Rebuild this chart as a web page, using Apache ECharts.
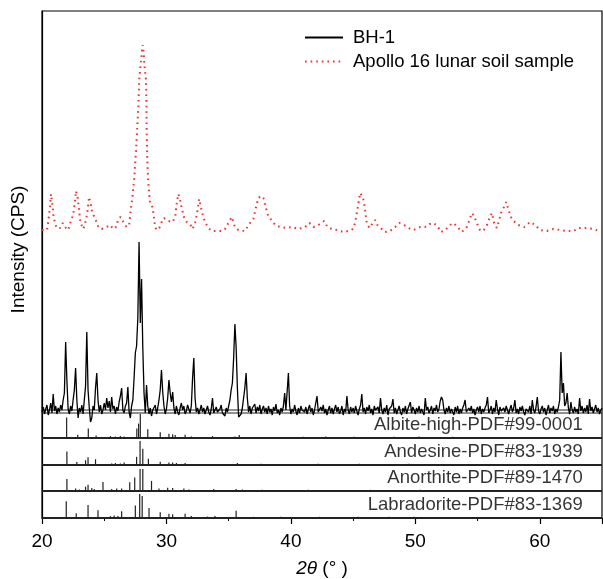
<!DOCTYPE html>
<html>
<head>
<meta charset="utf-8">
<script src="https://cdn.jsdelivr.net/npm/echarts@6/dist/echarts.min.js"></script>
<style>html,body{margin:0;padding:0;background:#fff;}#c{width:603px;height:579px;}</style>
</head>
<body>
<div id="c"></div>
<script>
// ---------- DATA ----------
const xTicks = [20, 30, 40, 50, 60];
const seriesNames = ['BH-1', 'Apollo 16 lunar soil sample'];
const patternNames = ['Albite-high-PDF#99-0001', 'Andesine-PDF#83-1939', 'Anorthite-PDF#89-1470', 'Labradorite-PDF#83-1369'];

// BH-1 measured pattern: 2θ from 20.0 to 65.0, step 0.1 (offset intensity units)
const bh1Start = 20.0;
const bh1Step = 0.1;
const bh1Intensity = [
  106,111,104,109,113,103,108,115,105,124,
  107,112,104,110,106,113,108,118,125,176,
  138,109,104,112,107,118,128,150,118,100,
  110,106,113,104,118,132,186,128,110,96,
  100,112,108,130,145,118,106,113,104,108,
  115,108,120,110,117,106,121,109,112,104,
  111,107,116,122,130,108,105,112,115,131,
  106,100,112,118,140,165,172,200,276,195,
  239,170,125,105,133,112,104,110,102,108,
  106,113,104,110,118,128,148,126,112,104,
  109,120,138,125,116,126,110,104,112,106,
  103,110,115,108,112,104,107,113,109,105,
  112,140,160,120,106,110,104,108,113,106,
  110,104,108,112,106,103,109,120,105,108,
  111,106,104,109,113,105,107,102,110,106,
  112,118,128,135,160,194,171,130,101,102,
  104,110,120,130,145,120,106,112,104,110,
  108,114,105,111,107,113,104,109,112,106,
  110,104,112,106,109,103,111,107,114,105,
  108,103,110,106,112,125,108,110,145,112,
  104,109,106,113,107,103,110,105,112,108,
  110,106,111,104,109,113,106,110,103,108,
  110,122,106,104,111,107,113,105,109,103,
  108,112,105,110,104,109,113,106,111,104,
  107,112,103,109,106,122,108,104,111,106,
  110,105,112,107,103,109,113,124,106,110,
  104,111,107,113,105,109,103,112,108,106,
  111,105,120,108,104,110,106,113,103,109,
  107,112,119,105,110,104,108,112,106,103,
  110,106,112,104,109,107,116,105,111,108,
  104,110,106,112,105,109,107,103,120,108,
  111,105,108,112,104,110,107,113,106,109,
  117,121,118,108,104,110,106,112,105,109,
  107,103,111,106,112,104,109,105,110,113,
  118,106,104,110,107,112,105,109,103,108,
  111,106,112,104,109,106,110,113,121,105,
  108,112,104,110,106,118,109,103,111,107,
  105,110,106,112,108,104,109,113,106,110,
  118,105,109,104,111,107,112,106,103,109,
  110,106,112,104,118,108,105,111,121,107,
  104,109,112,106,110,103,108,113,105,110,
  107,112,104,109,106,111,118,166,125,135,
  112,115,125,110,104,116,108,105,111,106,
  109,104,120,107,112,105,110,106,113,104,
  119,107,111,105,109,113,106,110,104,108,
  110
];

// Apollo 16 lunar soil sample (offset intensity units)
const apolloTheta = [20.0,20.4,20.5,20.64,20.72,20.86,20.93,21.05,21.18,21.45,21.66,21.85,22.1,22.3,22.5,22.65,22.73,22.87,23.0,23.1,23.32,23.54,23.67,23.78,23.9,24.04,24.26,24.53,24.8,25.2,25.47,25.73,25.95,26.13,26.32,26.54,26.8,27.0,27.13,27.29,27.42,27.56,27.66,27.74,27.82,27.96,28.09,28.17,28.25,28.36,28.39,28.41,28.46,28.54,28.68,28.87,29.0,29.08,29.22,29.43,29.62,29.8,30.15,30.5,30.7,30.83,30.96,31.1,31.23,31.41,31.63,31.9,32.1,32.3,32.43,32.54,32.62,32.76,32.92,33.1,33.37,33.64,34.04,34.44,34.71,34.98,35.25,35.5,35.78,36.3,36.72,36.98,37.2,37.39,37.58,37.79,38.0,38.2,38.46,38.73,39.13,39.67,40.07,40.6,41.14,41.49,41.81,42.21,42.67,42.94,43.29,43.69,44.22,44.62,44.97,45.16,45.3,45.43,45.56,45.66,45.78,45.88,45.99,46.1,46.31,46.58,46.77,46.95,47.3,47.57,47.97,48.38,48.72,49.1,49.45,49.85,50.39,50.79,51.14,51.46,51.78,52.05,52.4,52.8,53.07,53.39,53.74,54.14,54.35,54.54,54.73,54.94,55.2,55.47,55.75,56.0,56.15,56.33,56.55,56.76,56.95,57.14,57.3,57.49,57.68,57.89,58.29,58.75,59.23,59.63,60.03,60.57,61.1,61.64,62.18,62.71,63.11,63.78,64.32,64.72,65.0];
const apolloIntensity = [288,288,296,311,324,311,301,295,290,290,295,291,288,296,303,316,327,320,305,295,289,298,308,321,315,305,300,291,289,291,293,289,291,299,301,296,291,293,308,323,341,368,391,411,440,458,473,465,450,438,415,388,358,335,315,311,301,291,288,290,296,300,297,296,301,315,324,318,310,301,296,294,289,295,303,311,319,311,303,296,290,287,287,287,289,295,301,291,288,287,295,299,311,320,322,320,310,301,298,293,291,290,291,289,291,295,291,293,297,291,289,288,286,287,289,295,305,315,325,327,321,315,305,295,290,295,298,293,289,286,287,291,295,293,290,288,291,291,294,295,292,286,288,293,295,291,286,291,298,305,302,295,288,287,293,301,305,295,290,299,308,311,316,308,301,297,293,291,296,293,288,287,289,288,287,287,290,290,289,287,287];

// Reference stick patterns: [2θ, relative intensity]
const albiteSticks = [[21.98,85],[22.87,14],[23.72,40],[24.35,10],[25.5,8],[25.9,6],[26.3,8],[26.6,6],[27.62,40],[27.76,60],[27.9,100],[28.5,36],[29.5,24],[30.2,18],[30.5,16],[30.7,12],[31.5,14],[32.0,6],[33.7,8],[35.5,6],[35.85,12],[36.3,4],[36.8,4],[37.3,3],[37.8,4],[38.2,3],[38.7,4],[39.3,3],[39.8,4],[40.5,3],[41.0,5],[41.6,3],[42.1,4],[42.8,6],[43.4,3],[44.0,4],[44.6,3],[45.1,5],[45.7,4],[46.3,3],[46.9,4],[47.6,3],[48.3,5],[49.0,3],[49.6,4],[50.3,6],[51.0,3],[51.7,4],[52.3,3],[53.0,5],[53.6,3],[54.3,4],[55.0,3],[55.8,4],[56.5,3],[57.2,4],[58.0,3],[58.8,4],[59.6,3],[60.4,4],[61.2,3],[62.0,4],[62.8,3],[63.6,4],[64.4,3]];
const andesineSticks = [[22.0,56],[22.8,12],[23.5,20],[23.7,32],[24.3,24],[25.6,6],[25.9,8],[26.3,6],[26.6,10],[27.6,34],[27.88,100],[28.1,68],[28.55,26],[29.5,14],[30.2,10],[30.5,10],[30.8,8],[31.5,8],[33.7,4],[35.7,8],[36.5,4],[37.1,3],[37.6,5],[38.3,3],[38.9,4],[39.5,3],[40.2,4],[40.9,3],[41.5,4],[42.2,5],[42.9,3],[43.5,4],[44.2,3],[44.9,4],[45.5,5],[46.2,3],[46.8,4],[47.5,3],[48.1,4],[48.8,3],[49.5,5],[50.2,3],[50.8,4],[51.5,3],[52.2,4],[52.9,3],[53.5,4],[54.2,3],[54.9,4],[55.6,3],[56.3,4],[57.0,3],[57.7,4],[58.4,3],[59.1,4],[59.8,3],[60.6,4],[61.4,3],[62.2,4],[63.0,3],[63.8,4],[64.6,3]];
const anorthiteSticks = [[22.0,50],[22.7,10],[23.0,6],[23.5,18],[23.7,26],[24.0,12],[24.2,8],[24.9,38],[25.6,8],[26.0,10],[26.4,10],[27.05,36],[27.45,56],[27.88,92],[28.1,92],[28.8,42],[29.4,10],[30.1,14],[30.5,12],[31.4,10],[31.8,6],[33.8,8],[35.6,8],[36.1,6],[36.7,4],[37.2,3],[37.7,5],[38.4,3],[39.0,4],[39.6,3],[40.3,4],[40.8,3],[41.4,5],[42.0,3],[42.6,4],[43.3,3],[43.9,4],[44.5,3],[45.2,4],[45.8,3],[46.4,5],[47.1,3],[47.8,4],[48.4,3],[49.1,4],[49.8,3],[50.4,5],[51.1,3],[51.8,4],[52.4,3],[53.1,4],[53.8,3]];
const labradoriteSticks = [[21.95,70],[22.75,20],[23.7,54],[24.5,32],[25.5,8],[25.8,10],[26.1,8],[26.4,28],[27.5,52],[27.85,100],[28.05,92],[28.6,42],[29.5,24],[30.2,18],[30.5,16],[31.5,18],[32.0,8],[33.3,6],[33.9,8],[35.6,30],[36.4,4],[37.0,5],[37.5,3],[38.1,4],[38.7,3],[39.2,5],[39.9,3],[40.5,4],[41.1,3],[41.7,4],[42.3,5],[43.0,3],[43.6,4],[44.3,3],[44.8,4],[45.4,5],[46.0,3],[46.6,4],[47.3,3],[47.9,5],[48.6,3],[49.2,4],[49.9,5],[50.5,3],[51.2,4],[51.9,3],[52.5,4],[53.2,3],[53.9,4],[54.6,3],[55.2,4],[55.9,3],[56.6,4],[57.3,3],[58.1,4],[58.8,3],[59.5,4],[60.2,3],[61.0,4],[61.7,3],[62.5,4],[63.3,3],[64.1,4],[64.8,3]];

// ---------- LAYOUT / STYLE ----------
const patterns = [
  {name: patternNames[0], sticks: albiteSticks, base: 80},
  {name: patternNames[1], sticks: andesineSticks, base: 53},
  {name: patternNames[2], sticks: anorthiteSticks, base: 27},
  {name: patternNames[3], sticks: labradoriteSticks, base: 0}
];
const stickScale = 0.24;
const labelX = 63.45;
const labelLift = 13;
const FONT = '"Liberation Sans", Arial, sans-serif';

const bh1Data = bh1Intensity.map((v, i) => [+(bh1Start + i * bh1Step).toFixed(2), v]);
const apolloData = apolloTheta.map((t, i) => [t, apolloIntensity[i]]);

const series = [];
[108, 105].forEach(b => {
  series.push({type: 'line', silent: true, symbol: 'none', data: [[20, b], [65, b]],
    lineStyle: {color: '#222', width: 1}, z: 1});
});
patterns.forEach(p => {
  series.push({type: 'line', silent: true, symbol: 'none', data: [[20, p.base], [65, p.base]],
    lineStyle: {color: '#222', width: 2.2}, z: 1});
  series.push({
    type: 'custom', silent: true, z: 2,
    data: p.sticks.map(s => [s[0], s[1], p.base]),
    renderItem: function (params, api) {
      const x = api.value(0), h = api.value(1), b = api.value(2);
      const p0 = api.coord([x, b]);
      const p1 = api.coord([x, b + h * stickScale]);
      return {type: 'line', shape: {x1: p0[0], y1: p0[1], x2: p1[0], y2: p1[1]},
        style: {stroke: '#222', lineWidth: 1.2}};
    }
  });
  series.push({
    type: 'scatter', silent: true, symbolSize: 0, z: 5,
    data: [[labelX, p.base + labelLift]],
    label: {show: true, position: 'left', distance: 0, formatter: p.name,
      fontFamily: FONT, fontSize: 18.5, color: '#000'}
  });
});
series.push({
  name: seriesNames[0], type: 'line', symbol: 'none', data: bh1Data, z: 4,
  lineStyle: {color: '#000', width: 1.3}, itemStyle: {color: '#000'}
});
series.push({
  name: seriesNames[1], type: 'line', symbol: 'none', data: apolloData, z: 4,
  lineStyle: {color: '#e8352e', width: 2, type: [1.6, 4]}, itemStyle: {color: '#e8352e'}
});

const chart = echarts.init(document.getElementById('c'), null, {renderer: 'canvas'});
chart.setOption({
  animation: false,
  backgroundColor: '#fff',
  grid: {left: 42, right: 1, top: 11, bottom: 61, show: true, borderColor: '#000', borderWidth: 1.2,
    containLabel: false, outerBoundsMode: 'none'},
  legend: {
    orient: 'vertical', left: 299, top: 23, itemWidth: 38, itemHeight: 14, itemGap: 5,
    itemStyle: {opacity: 0},
    textStyle: {fontFamily: FONT, fontSize: 18.5, color: '#000', padding: [0, 0, 0, 5]},
    data: seriesNames
  },
  xAxis: {
    type: 'value', min: 20, max: 65, interval: 10,
    name: '{i|2θ} (° )', nameLocation: 'middle', nameGap: 41,
    nameTextStyle: {fontFamily: FONT, fontSize: 19, color: '#000',
      rich: {i: {fontFamily: FONT, fontSize: 19, fontStyle: 'italic', color: '#000'}}},
    axisLine: {lineStyle: {color: '#000', width: 1.2}},
    axisTick: {inside: false, length: 6, lineStyle: {color: '#000', width: 1.2}},
    minorTick: {show: true, splitNumber: 2, length: 3, lineStyle: {color: '#000', width: 1}},
    axisLabel: {fontFamily: FONT, fontSize: 19, color: '#000', margin: 14, showMaxLabel: false,
      formatter: v => (xTicks.indexOf(v) >= 0 ? String(v) : '')},
    splitLine: {show: false}
  },
  yAxis: {
    type: 'value', min: 0, max: 507,
    name: 'Intensity (CPS)', nameLocation: 'middle', nameGap: 14,
    nameTextStyle: {fontFamily: FONT, fontSize: 19, color: '#000', padding: [0, 0, 0, 30]},
    axisLine: {show: true, lineStyle: {color: '#000', width: 1.2}},
    axisTick: {show: false}, axisLabel: {show: false}, splitLine: {show: false}
  },
  series: series
});
</script>
</body>
</html>
